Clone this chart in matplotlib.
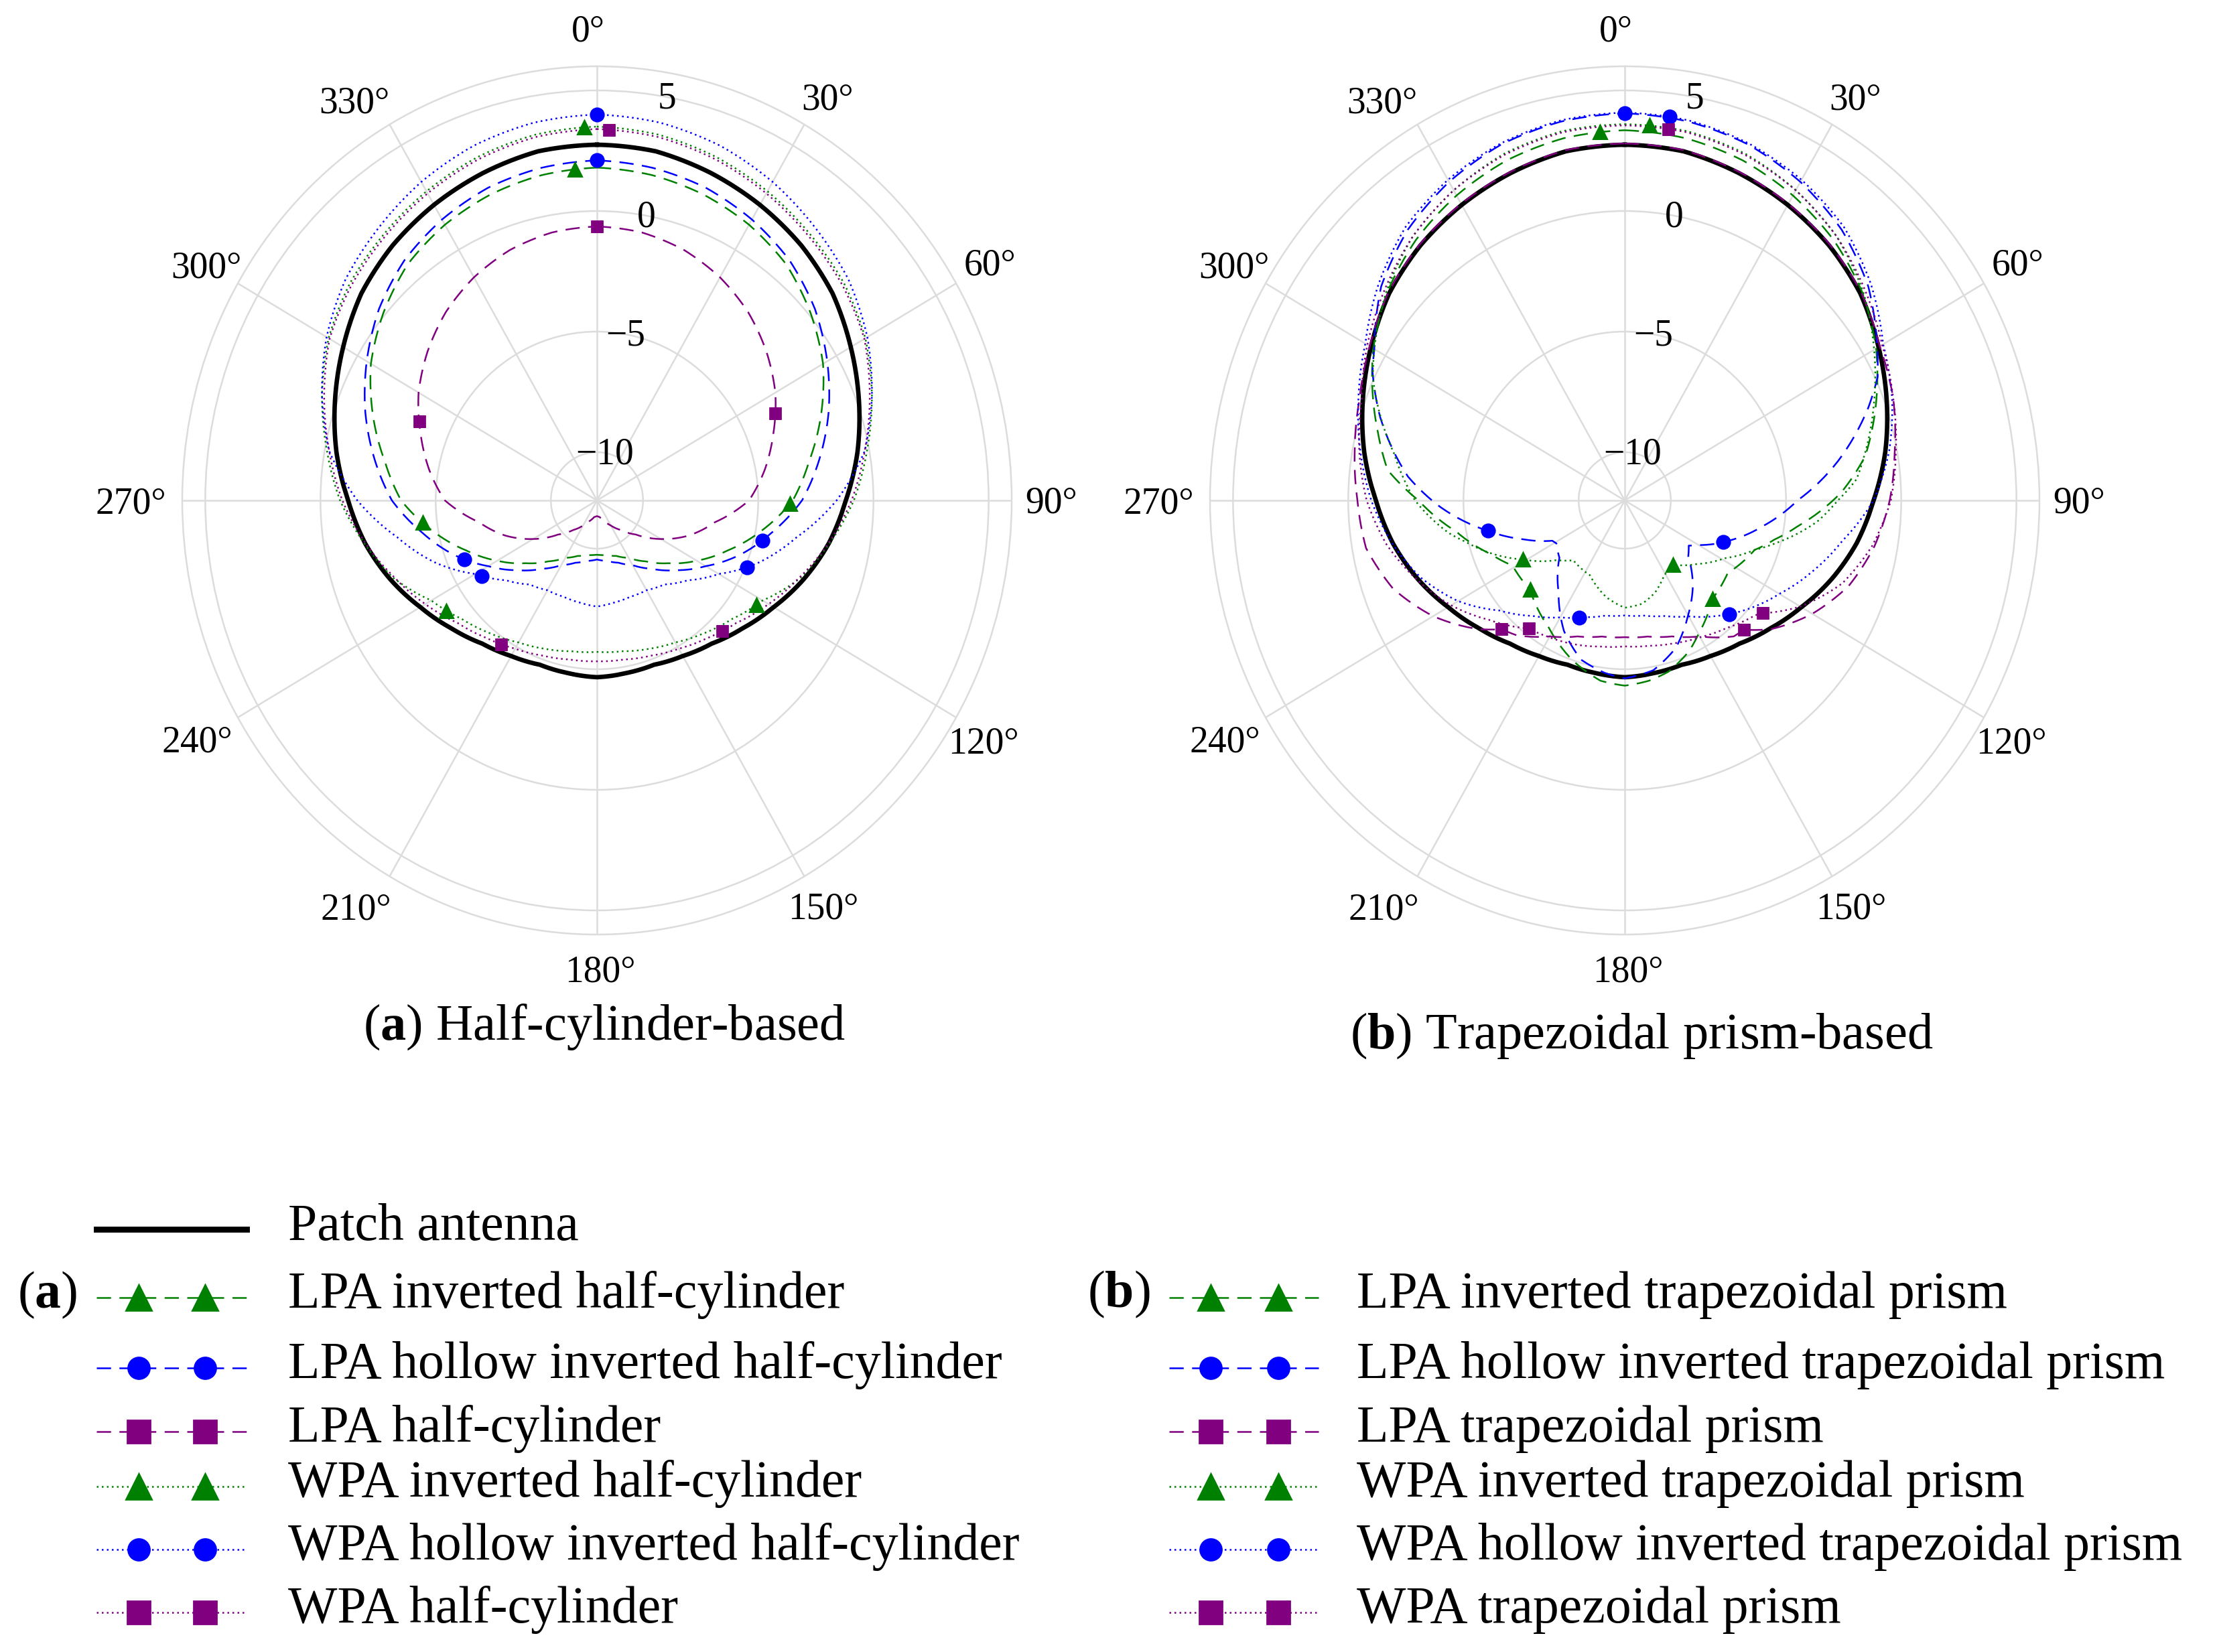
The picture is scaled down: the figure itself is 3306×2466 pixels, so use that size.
import numpy as np
import matplotlib
matplotlib.use("Agg")
import matplotlib.pyplot as plt
from matplotlib.lines import Line2D

plt.rcParams['font.family'] = ['Liberation Serif', 'DejaVu Serif']
plt.rcParams['mathtext.fontset'] = 'custom'
plt.rcParams['mathtext.rm'] = 'Liberation Serif'
plt.rcParams['mathtext.bf'] = 'Liberation Serif:bold'

# ---------------- data (angles in degrees, gain in dB) ----------------
grid10 = list(range(0, 360, 10))

patch_deg = grid10
patch_db = [2.75, 2.7, 2.45, 2.15, 1.8, 1.35, 0.72, 0.1, -0.52, -1.2, -1.78, -2.45, -3.15, -3.75,
            -4.25, -4.55, -4.75, -4.73, -4.67, -4.73, -4.75, -4.55, -4.25, -3.75, -3.15, -2.45,
            -1.78, -1.2, -0.52, 0.1, 0.72, 1.35, 1.8, 2.15, 2.45, 2.7]

# (a) half-cylinder based
a_lpa_inv_db = [1.8, 1.7, 1.5, 1.2, 0.78, 0.1, -0.67, -1.65, -2.65, -3.5, -4.75, -5.95, -7.0, -7.95,
                -8.7, -9.25, -9.55, -9.7, -9.75, -9.7, -9.55, -9.25, -8.7, -7.95, -7.0, -5.95, -4.75,
                -3.5, -2.65, -1.65, -0.67, 0.1, 0.78, 1.2, 1.5, 1.7]
a_lpa_hollow_db = [2.1, 2.0, 1.8, 1.45, 1.0, 0.35, -0.46, -1.3, -2.2, -3.1, -4.3, -5.4, -6.55, -7.5,
                   -8.3, -8.9, -9.25, -9.45, -9.55, -9.45, -9.25, -8.9, -8.3, -7.5, -6.55, -5.4, -4.3,
                   -3.1, -2.2, -1.3, -0.46, 0.35, 1.0, 1.45, 1.8, 2.0]
a_lpa_hc_db = [-0.64, -0.72, -0.95, -1.32, -1.8, -2.4, -3.06, -3.85, -4.6, -5.4, -6.8, -7.75, -8.8,
               -9.8, -10.4, -10.8, -11.1, -11.3, -11.35, -11.3, -11.1, -10.8, -10.4, -9.8, -8.8,
               -7.75, -6.8, -5.4, -4.6, -3.85, -3.06, -2.4, -1.8, -1.32, -0.95, -0.72]
a_wpa_inv_db = [3.5, 3.4, 3.15, 2.8, 2.4, 2.0, 1.45, 0.7, -0.1, -0.85, -1.75, -2.6, -3.7, -4.35, -4.8,
                -5.2, -5.45, -5.65, -5.72, -5.65, -5.45, -5.2, -4.8, -4.35, -3.7, -2.6, -1.75, -0.85,
                -0.1, 0.7, 1.45, 2.0, 2.4, 2.8, 3.15, 3.4]
a_wpa_hollow_db = [4.0, 3.9, 3.65, 3.25, 2.75, 2.25, 1.55, 0.7, -0.2, -1.6, -3.2, -4.5, -5.9, -6.85,
                   -7.45, -7.7, -7.75, -7.7, -7.6, -7.7, -7.75, -7.7, -7.45, -6.85, -5.9, -4.5, -3.2,
                   -1.6, -0.2, 0.7, 1.55, 2.25, 2.75, 3.25, 3.65, 3.9]
a_wpa_hc_db = [3.4, 3.3, 3.05, 2.7, 2.3, 1.9, 1.4, 0.6, -0.2, -0.95, -1.8, -2.65, -3.4, -4.1, -4.55,
               -4.9, -5.15, -5.3, -5.33, -5.3, -5.15, -4.9, -4.55, -4.1, -3.4, -2.65, -1.8, -0.95,
               -0.2, 0.6, 1.4, 1.9, 2.3, 2.7, 3.05, 3.3]

a_lpa_inv_mk = [356, 91, 263]
a_lpa_hollow_mk = [0, 103, 247]
a_lpa_hc_mk = [0, 65, 293]
a_wpa_inv_mk = [358, 122, 235]
a_wpa_hollow_mk = [0, 113, 238]
a_wpa_hc_mk = [2, 135, 215]

# (b) trapezoidal prism based
b_lpa_inv_deg = [0, 10, 20, 30, 40, 50, 60, 70, 80, 88, 98, 104, 110, 124, 137, 150, 156, 165, 172,
                 180, 188, 199, 212, 228, 241, 249, 260, 270, 277, 285, 290, 300, 310, 320, 330, 340, 350]
b_lpa_inv_db = [3.35, 3.25, 3.0, 2.6, 2.1, 1.45, 0.6, -0.4, -1.4, -2.6, -4.4, -5.3, -6.0, -6.61, -6.42,
                -5.6, -5.15, -4.65, -4.45, -4.32, -4.45, -5.0, -5.78, -6.47, -6.43, -5.78, -4.57, -3.05,
                -1.63, -0.9, -0.4, 0.6, 1.45, 2.1, 2.6, 3.0, 3.25]
b_lpa_hollow_deg = [0, 10, 20, 30, 40, 50, 60, 65, 70, 80, 90, 100, 110, 120, 124, 130, 140, 150, 160,
                    170, 180, 187, 196, 206, 217, 230, 239, 242, 250, 258, 268, 276, 288, 296, 300, 310,
                    320, 330, 340, 350]
b_lpa_hollow_db = [4.05, 3.95, 3.7, 3.25, 2.65, 1.8, 0.65, 0.11, -0.75, -2.6, -4.5, -5.9, -7.15, -8.3,
                   -8.65, -8.4, -7.4, -6.5, -5.5, -4.85, -4.62, -4.8, -5.13, -5.98, -7.23, -8.3, -8.54,
                   -8.44, -7.3, -5.93, -4.0, -2.54, -0.84, 0.18, 0.55, 1.8, 2.65, 3.25, 3.7, 3.95]
b_lpa_tp_deg = [0, 10, 20, 30, 40, 50, 60, 70, 80, 90, 100, 110, 120, 130, 136, 140, 150, 160, 170, 180,
                190, 200, 210, 220, 225, 230, 240, 250, 260, 270, 280, 290, 300, 310, 320, 330, 340, 350]
b_lpa_tp_db = [2.8, 2.75, 2.5, 2.2, 1.85, 1.4, 0.78, 0.4, -0.1, -0.5, -1.0, -1.65, -2.6, -3.7, -4.55,
               -4.64, -5.49, -6.0, -6.27, -6.33, -6.27, -6.0, -5.49, -4.7, -4.45, -3.7, -2.4, -1.3,
               -0.6, -0.4, -0.1, 0.25, 0.78, 1.4, 1.85, 2.2, 2.5, 2.75]
b_wpa_inv_deg = [0, 10, 20, 30, 40, 50, 60, 70, 80, 85, 90, 96, 105, 110, 119, 130, 142, 151, 161, 170,
                 180, 191, 206, 222, 230, 241, 250, 256, 260, 268, 270, 281, 290, 295, 300, 310, 320,
                 330, 340, 350]
b_wpa_inv_db = [3.6, 3.55, 3.3, 2.85, 2.3, 1.5, 0.5, -0.5, -1.45, -1.9, -2.75, -3.6, -5.19, -6.0, -7.05,
                -7.9, -8.62, -8.46, -7.96, -7.65, -7.55, -7.9, -8.55, -8.66, -8.15, -6.95, -5.7, -4.89,
                -4.24, -3.16, -2.9, -1.8, -0.6, 0.06, 0.55, 1.5, 2.3, 2.85, 3.3, 3.55]
b_wpa_hollow_deg = grid10
b_wpa_hollow_db = [4.08, 4.0, 3.75, 3.35, 2.8, 1.95, 0.95, 0.35, -0.35, -1.2, -2.4, -3.35, -4.25, -5.0,
                   -5.75, -6.45, -6.9, -7.15, -7.23, -7.15, -6.85, -6.4, -5.75, -4.9, -3.65, -2.6, -1.75,
                   -1.0, -0.35, 0.3, 1.0, 1.95, 2.8, 3.35, 3.75, 4.0]
b_wpa_tp_deg = [0, 10, 20, 30, 40, 50, 60, 70, 80, 90, 100, 110, 120, 128, 130, 140, 150, 160, 170, 180,
                190, 200, 210, 218, 220, 230, 240, 250, 260, 270, 280, 290, 300, 310, 320, 330, 340, 350]
b_wpa_tp_db = [3.55, 3.5, 3.25, 2.85, 2.3, 1.6, 0.9, 0.4, -0.05, -0.45, -1.1, -1.95, -3.2, -4.4, -4.6,
               -5.1, -5.45, -5.7, -5.88, -5.95, -5.85, -5.65, -5.45, -5.25, -5.1, -4.3, -3.3, -2.4,
               -1.5, -0.8, -0.3, 0.15, 0.9, 1.6, 2.3, 2.85, 3.25, 3.5]

b_lpa_inv_mk = [356, 137, 228]
b_lpa_hollow_mk = [0, 112, 258]
b_lpa_tp_mk = [136, 225]
b_wpa_inv_mk = [4, 142, 241]
b_wpa_hollow_mk = [7, 136, 202]
b_wpa_tp_mk = [7, 128, 218]

theta_ticks = list(range(0, 360, 30))
theta_tick_labels = [f'{a}\u00b0' for a in theta_ticks]
r_ticks = [-10, -5, 0, 5]
r_tick_labels = ['\u221210', '\u22125', '0', '5']

legend_a = ['LPA inverted half-cylinder', 'LPA hollow inverted half-cylinder', 'LPA half-cylinder',
            'WPA inverted half-cylinder', 'WPA hollow inverted half-cylinder', 'WPA half-cylinder']
legend_b = ['LPA inverted trapezoidal prism', 'LPA hollow inverted trapezoidal prism',
            'LPA trapezoidal prism', 'WPA inverted trapezoidal prism',
            'WPA hollow inverted trapezoidal prism', 'WPA trapezoidal prism']

# ---------------- layout / styles ----------------
# label placement around the frame (angle offset in deg, radius in dB units)
lab_dtheta = [-1.1, 1.1, 0.3, 0.4, 1.0, -0.1, -0.4, 1.6, -0.1, -0.4, -0.4, -2.6]
lab_r = [7.43, 7.37, 7.64, 7.73, 7.58, 7.6, 7.56, 7.95, 8.05, 8.24, 7.51, 7.55]

GREEN, BLUE, PURPLE = '#008000', '#0000ff', '#800080'
DASH = (0, (8.5, 5.0))
DOT = (0, (1.0, 2.0))
styles = [(GREEN, DASH, '^', 7.5), (BLUE, DASH, 'o', 7.0), (PURPLE, DASH, 's', 5.6),
          (GREEN, DOT, '^', 7.5), (BLUE, DOT, 'o', 7.0), (PURPLE, DOT, 's', 5.6)]
legend_ms = {'^': 14.0, 'o': 11.5, 's': 12.0}

series_a = [(grid10, a_lpa_inv_db, a_lpa_inv_mk), (grid10, a_lpa_hollow_db, a_lpa_hollow_mk),
            (grid10, a_lpa_hc_db, a_lpa_hc_mk), (grid10, a_wpa_inv_db, a_wpa_inv_mk),
            (grid10, a_wpa_hollow_db, a_wpa_hollow_mk), (grid10, a_wpa_hc_db, a_wpa_hc_mk)]
series_b = [(b_lpa_inv_deg, b_lpa_inv_db, b_lpa_inv_mk), (b_lpa_hollow_deg, b_lpa_hollow_db, b_lpa_hollow_mk),
            (b_lpa_tp_deg, b_lpa_tp_db, b_lpa_tp_mk), (b_wpa_inv_deg, b_wpa_inv_db, b_wpa_inv_mk),
            (b_wpa_hollow_deg, b_wpa_hollow_db, b_wpa_hollow_mk), (b_wpa_tp_deg, b_wpa_tp_db, b_wpa_tp_mk)]

W, H = 3306, 2466
fig = plt.figure(figsize=(W / 200, H / 200), dpi=200)

RX, RY = 619, 648   # horizontal / vertical radius of the polar frame in px
CY = 747
FS_TICK = 20
FS_TEXT = 28
FS_CAP = 27.5


def closed(deg, db):
    d = np.deg2rad(np.append(deg, 360))
    v = np.append(db, db[0])
    return d, v


def smooth_line(line):
    # let the polar transform draw each segment as a curve in (theta, r)
    line.get_path()._interpolation_steps = 16


def make_polar(cx, series):
    ax = fig.add_axes([(cx - RX) / W, (H - CY - RY) / H, 2 * RX / W, 2 * RY / H], projection='polar')
    ax.set_aspect('auto')
    ax.set_theta_zero_location('N')
    ax.set_theta_direction(-1)
    ax.set_ylim(-12, 6)
    ax.set_yticks(r_ticks)
    ax.set_yticklabels([])
    ax.set_xticks(np.deg2rad(theta_ticks))
    ax.set_xticklabels([])
    ax.tick_params(length=0)
    ax.grid(True, color='#dcdcdc', lw=0.9)
    ax.spines['polar'].set_color('#dcdcdc')
    ax.spines['polar'].set_linewidth(0.9)
    for a, lab, dt, rr in zip(theta_ticks, theta_tick_labels, lab_dtheta, lab_r):
        ax.text(np.deg2rad(a + dt), rr, lab, ha='center', va='center', fontsize=FS_TICK)
    for v, lab in zip(r_ticks, r_tick_labels):
        ax.text(np.deg2rad(10.3), v - 0.08, lab, ha='center', va='center', fontsize=FS_TICK, zorder=6)
    t, v = closed(patch_deg, patch_db)
    ln, = ax.plot(t, v, color='black', lw=2.4, zorder=2)
    smooth_line(ln)
    for (deg, db, mk), (col, ls, m, ms) in zip(series, styles):
        t, v = closed(deg, db)
        ln, = ax.plot(t, v, color=col, lw=0.9, linestyle=ls, zorder=3)
        smooth_line(ln)
        mr = np.interp(mk, deg, db, period=360)
        ax.plot(np.deg2rad(mk), mr, linestyle='none', marker=m, ms=ms, color=col, zorder=4)
    return ax


make_polar(891, series_a)
make_polar(2425, series_b)

fig.text(902 / W, 1 - 1533 / H, r'($\mathbf{a}$) Half-cylinder-based', ha='center', va='center', fontsize=FS_CAP)
fig.text(2450 / W, 1 - 1546 / H, r'($\mathbf{b}$) Trapezoidal prism-based', ha='center', va='center', fontsize=FS_CAP)


# ---------------- legend (drawn manually) ----------------
def fy(y):
    return 1 - y / H


def handle(x0, x1, xm, y, col, ls, m):
    fig.add_artist(Line2D([x0 / W, x1 / W], [fy(y), fy(y)], transform=fig.transFigure,
                          color=col, lw=0.9, linestyle=ls))
    fig.add_artist(Line2D([xx / W for xx in xm], [fy(y)] * len(xm), transform=fig.transFigure,
                          linestyle='none', marker=m, ms=legend_ms[m], color=col))


fig.add_artist(Line2D([144 / W, 368 / W], [fy(1835), fy(1835)], transform=fig.transFigure,
                      color='black', lw=3.2))
fig.text(430 / W, fy(1851), 'Patch antenna', ha='left', va='baseline', fontsize=FS_TEXT)

rows_y = [1937, 2042, 2137, 2219, 2313, 2407]
fig.text(71 / W, fy(1952), r'($\mathbf{a}$)', ha='center', va='baseline', fontsize=FS_TEXT)
fig.text(1670 / W, fy(1951), r'($\mathbf{b}$)', ha='center', va='baseline', fontsize=FS_TEXT)
for i, ((col, ls, m, ms), la, lb) in enumerate(zip(styles, legend_a, legend_b)):
    y = rows_y[i]
    handle(144, 368, [207, 306], y, col, ls, m)
    fig.text(430 / W, fy(y + 15), la, ha='left', va='baseline', fontsize=FS_TEXT)
    handle(1745, 1968, [1807, 1908], y, col, ls, m)
    fig.text(2025 / W, fy(y + 15), lb, ha='left', va='baseline', fontsize=FS_TEXT)

fig.savefig('out.png', dpi=200)
